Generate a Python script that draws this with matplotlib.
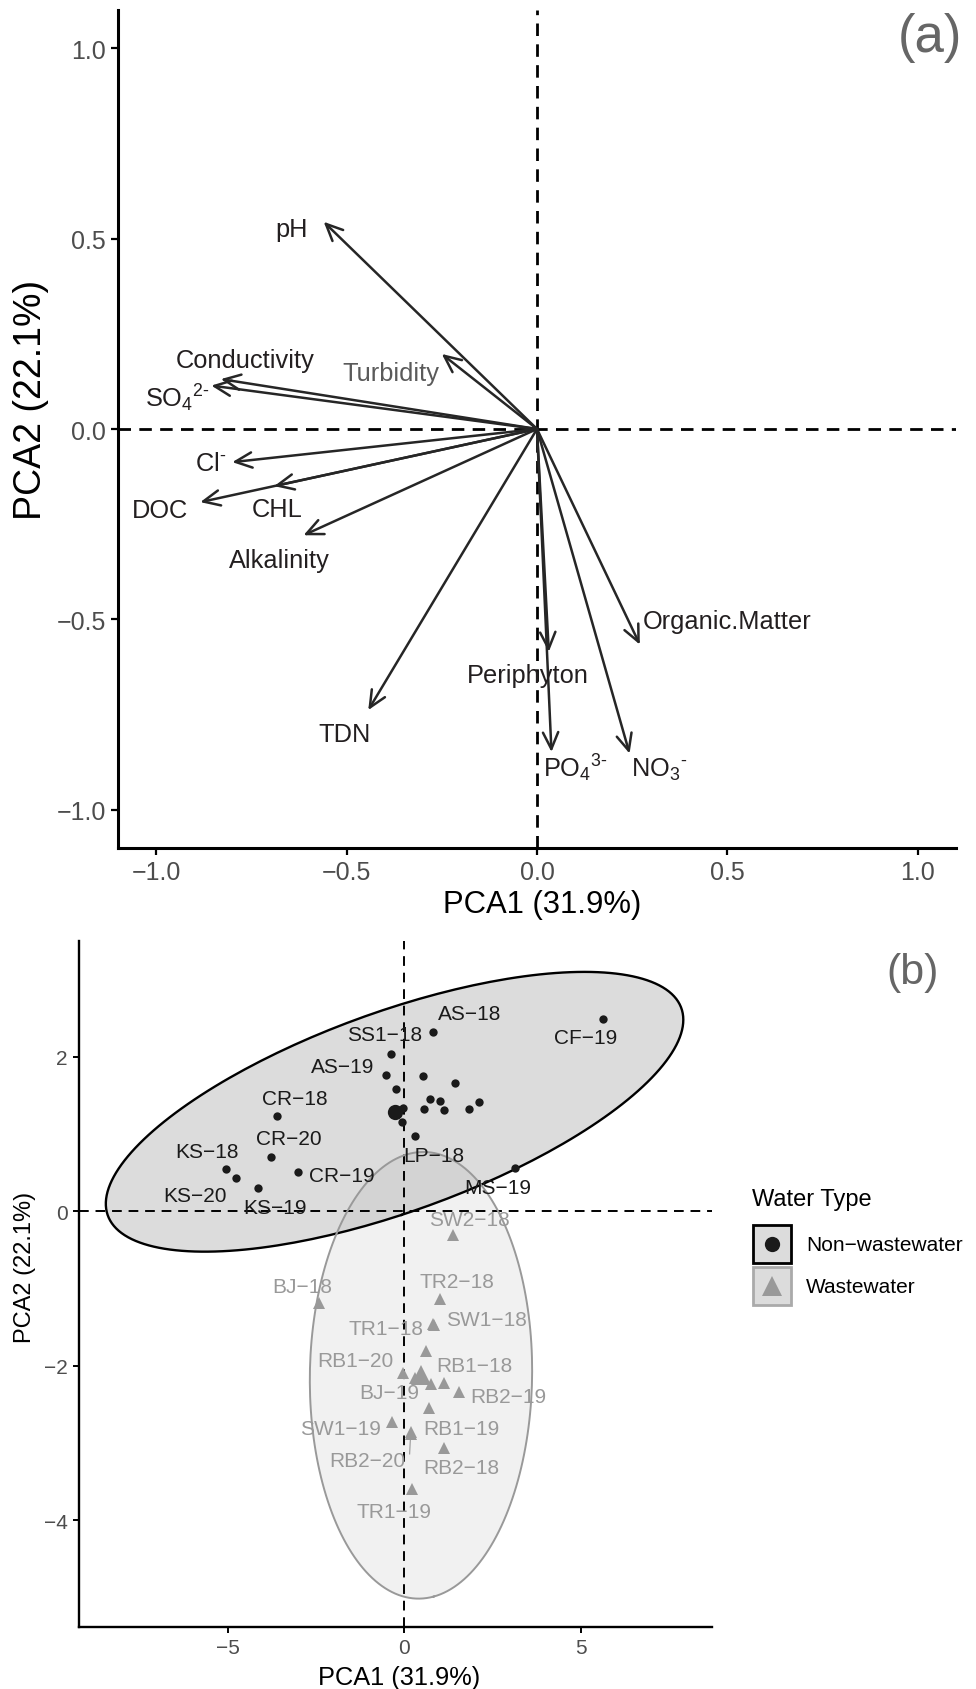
import numpy as np
import matplotlib

matplotlib.use("Agg")
import matplotlib.pyplot as plt
from matplotlib.patches import FancyArrowPatch, ArrowStyle, Rectangle

plt.rcParams["font.family"] = ["Liberation Sans", "DejaVu Sans"]
plt.rcParams["mathtext.fontset"] = "custom"
plt.rcParams["mathtext.rm"] = "Liberation Sans"
plt.rcParams["mathtext.it"] = "Liberation Sans:italic"
plt.rcParams["mathtext.bf"] = "Liberation Sans:bold"

# ---- panel (a): variable loadings ----
variables = ["pH", "Turbidity", "Conductivity", r"SO$_4$$^{2\text{-}}$", r"Cl$^{\text{-}}$", "CHL", "DOC",
             "Alkalinity", "TDN", "Periphyton", r"PO$_4$$^{3\text{-}}$", r"NO$_3$$^{\text{-}}$", "Organic.Matter"]
loading_x = [-0.56, -0.25, -0.83, -0.855, -0.80, -0.69, -0.884, -0.613, -0.443, 0.031, 0.038, 0.243, 0.27]
loading_y = [0.544, 0.197, 0.131, 0.114, -0.087, -0.150, -0.192, -0.279, -0.738, -0.585, -0.848, -0.852, -0.566]
# where the repelled labels ended up
label_x = [-0.645, -0.384, -0.765, -0.944, -0.858, -0.683, -0.99, -0.675, -0.506, -0.025, 0.10, 0.32, 0.50]
label_y = [0.525, 0.147, 0.181, 0.083, -0.088, -0.209, -0.213, -0.343, -0.80, -0.647, -0.887, -0.893, -0.505]

# ---- panel (b): site scores ----
nonww_names = ["AS-18", "CF-19", "SS1-18", "AS-19", "", "", "", "", "", "", "", "", "", "", "",
               "LP-18", "CR-18", "CR-20", "CR-19", "KS-18", "KS-20", "KS-19", "MS-19"]
nonww_x = [0.82, 5.62, -0.38, -0.53, -0.23, 0.54, 1.43, 0.73, 1.02, 0.57, 1.12, 1.82, 2.10, -0.05, -0.06,
           0.30, -3.59, -3.76, -3.01, -5.05, -4.77, -4.14, 3.14]
nonww_y = [2.32, 2.49, 2.04, 1.76, 1.59, 1.75, 1.66, 1.46, 1.43, 1.33, 1.31, 1.33, 1.42, 1.34, 1.16,
           0.97, 1.23, 0.71, 0.51, 0.55, 0.435, 0.30, 0.56]

ww_names = ["BJ-18", "TR2-18", "SW1-18", "TR1-18", "SW2-18", "", "RB1-20", "", "RB1-18", "RB2-19",
            "BJ-19", "", "SW1-19", "RB1-19", "RB2-20", "RB2-18", "TR1-19"]
ww_x = [-2.40, 1.01, 0.84, 0.82, 1.37, 0.62, -0.03, 0.75, 1.12, 1.54, 0.30, 0.69, -0.35, 0.19, 0.19, 1.12, 0.22]
ww_y = [-1.19, -1.13, -1.47, -1.46, -0.30, -1.81, -2.09, -2.24, -2.22, -2.34, -2.16, -2.55, -2.72, -2.85,
        -2.88, -3.06, -3.60]

# label placement (text centres, data units)
site_labels = {
    "AS-18": (1.85, 2.56), "CF-19": (5.14, 2.25), "SS1-18": (-0.57, 2.29), "AS-19": (-1.74, 1.88),
    "CR-18": (-3.10, 1.46), "CR-20": (-3.27, 0.94), "KS-18": (-5.58, 0.78), "CR-19": (-1.78, 0.46),
    "KS-20": (-5.93, 0.20), "KS-19": (-3.66, 0.05), "LP-18": (0.82, 0.72), "MS-19": (2.63, 0.31),
    "SW2-18": (1.85, -0.10), "BJ-18": (-2.88, -0.97), "TR2-18": (1.49, -0.91), "SW1-18": (2.31, -1.40),
    "TR1-18": (-0.52, -1.51), "RB1-20": (-1.39, -1.93), "RB1-18": (1.98, -1.99), "BJ-19": (-0.44, -2.34),
    "RB2-19": (2.93, -2.40), "SW1-19": (-1.80, -2.81), "RB1-19": (1.60, -2.81), "RB2-20": (-1.06, -3.22),
    "RB2-18": (1.62, -3.32), "TR1-19": (-0.29, -3.88),
}
ellipse_scale = {"Non-wastewater": 3.07, "Wastewater": 3.5}

DARK = "#1a1a1a"
GREY = "#999999"
TICK_GREY = "#4d4d4d"


def ellipse_path(xs, ys, scale, n=200):
    xs, ys = np.asarray(xs), np.asarray(ys)
    cov = np.cov(xs, ys)
    vals, vecs = np.linalg.eigh(cov)
    t = np.linspace(0, 2 * np.pi, n)
    circle = np.vstack([np.cos(t), np.sin(t)])
    pts = vecs @ (np.sqrt(vals)[:, None] * circle) * scale
    return xs.mean() + pts[0], ys.mean() + pts[1]


W, H = 976, 1690
fig = plt.figure(figsize=(W / 100, H / 100), dpi=100)


def px_axes(left, top, right, bottom):
    return fig.add_axes([left / W, 1 - bottom / H, (right - left) / W, (bottom - top) / H])


# Panel (a)
ax = px_axes(118, 11, 956, 849)
ax.set_xlim(-1.1, 1.1)
ax.set_ylim(-1.1, 1.1)
ax.axhline(0, color="black", lw=2.0, ls=(0, (4.5, 3)), zorder=1)
ax.axvline(0, color="black", lw=2.0, ls=(0, (4.5, 3)), zorder=1)
head = ArrowStyle("->", head_length=12, head_width=5.5)
for name, lx, ly, tx, ty in zip(variables, loading_x, loading_y, label_x, label_y):
    ax.add_patch(FancyArrowPatch((0, 0), (lx, ly), arrowstyle=head, mutation_scale=1,
                                 color="#262626", lw=1.8, shrinkA=0, shrinkB=0, zorder=3))
    col = "#5a5a5a" if name == "Turbidity" else "#231f20"
    ax.text(tx, ty, name, fontsize=18.3, color=col, ha="center", va="center", zorder=4)
ax.set_xticks([-1.0, -0.5, 0.0, 0.5, 1.0])
ax.set_yticks([-1.0, -0.5, 0.0, 0.5, 1.0])
ax.tick_params(labelsize=18, colors=TICK_GREY, width=1.6, length=5)
ax.tick_params(axis="both", color="black")
for s in ["top", "right"]:
    ax.spines[s].set_visible(False)
for s in ["left", "bottom"]:
    ax.spines[s].set_linewidth(2.2)
ax.set_xlabel("PCA1 (31.9%)", fontsize=22.3, va="center")
ax.set_ylabel("PCA2 (22.1%)", fontsize=27, va="center")
ax.xaxis.set_label_coords(0.506, -0.067)
ax.yaxis.set_label_coords(-0.104, 0.536)

# Panel (b)
bx = px_axes(79, 942, 712, 1628)
bx.set_xlim(-9.2, 8.7)
bx.set_ylim(-5.38, 3.50)
bx.axhline(0, color="black", lw=1.4, ls=(0, (5, 3.5)), zorder=1)
bx.axvline(0, color="black", lw=1.4, ls=(0, (5, 3.5)), zorder=1)

ex, ey = ellipse_path(nonww_x, nonww_y, ellipse_scale["Non-wastewater"])
bx.fill(ex, ey, color=DARK, alpha=0.15, lw=0, zorder=0.5)
bx.plot(ex, ey, color="black", lw=1.7, zorder=2)
ex, ey = ellipse_path(ww_x, ww_y, ellipse_scale["Wastewater"])
bx.fill(ex, ey, color=GREY, alpha=0.13, lw=0, zorder=0.5)
bx.plot(ex, ey, color=GREY, lw=1.4, zorder=2)

bx.plot(nonww_x, nonww_y, "o", color=DARK, ms=6, mew=0, zorder=3)
bx.plot(np.mean(nonww_x), np.mean(nonww_y), "o", color=DARK, ms=11, mew=0, zorder=3)
bx.plot(ww_x, ww_y, "^", color=GREY, ms=8, mew=0, zorder=3)
bx.plot(np.mean(ww_x), np.mean(ww_y), "^", color=GREY, ms=14, mew=0, zorder=3)

for names, xs, ys, col in [(nonww_names, nonww_x, nonww_y, DARK), (ww_names, ww_x, ww_y, GREY)]:
    for nm, x, y in zip(names, xs, ys):
        if not nm:
            continue
        tx, ty = site_labels[nm]
        bx.text(tx, ty, nm.replace("-", "\u2212"), fontsize=15, color=col,
                ha="center", va="center", zorder=4)
# repel segment for RB2-20
rx, ry = site_labels["RB2-20"]
i = ww_names.index("RB2-20")
bx.plot([ww_x[i] - 0.02, ww_x[i] - 0.04], [ww_y[i] - 0.07, ry + 0.08], color=GREY, lw=0.8, zorder=3)

bx.set_xticks([-5, 0, 5])
bx.set_yticks([-4, -2, 0, 2])
bx.tick_params(labelsize=15, colors=TICK_GREY, width=1.4, length=4.5)
bx.tick_params(axis="both", color="black")
for s in ["top", "right"]:
    bx.spines[s].set_visible(False)
for s in ["left", "bottom"]:
    bx.spines[s].set_linewidth(1.7)
bx.set_xlabel("PCA1 (31.9%)", fontsize=18.3, va="center")
bx.set_ylabel("PCA2 (22.1%)", fontsize=17, va="center")
bx.xaxis.set_label_coords(0.5055, -0.073)
bx.yaxis.set_label_coords(-0.085, 0.526)

# panel tags
fig.text(930 / W, 1 - 38 / H, "(a)", fontsize=38, color="#666666", ha="center", va="center")
fig.text(913 / W, 1 - 973 / H, "(b)", fontsize=31, color="#666666", ha="center", va="center")

# legend (drawn in pixel space)
lg = fig.add_axes([0, 0, 1, 1], facecolor="none")
lg.set_xlim(0, W)
lg.set_ylim(H, 0)
lg.axis("off")
lg.text(752, 1200, "Water Type", fontsize=17, ha="left", va="center", color="black")
keys = [("Non\u2212wastewater", "black", "o", DARK, 11, 1226),
        ("Wastewater", "#aaaaaa", "^", GREY, 15, 1268)]
for lab, edge, mk, mcol, ms, top in keys:
    lg.add_patch(Rectangle((753, top), 38, 38, facecolor="#dcdcdc", edgecolor=edge, lw=2))
    lg.plot(772, top + 19, mk, color=mcol, ms=ms, mew=0)
    lg.text(806, top + 20, lab, fontsize=15, ha="left", va="center", color="black")

fig.savefig("out.png", dpi=100)
